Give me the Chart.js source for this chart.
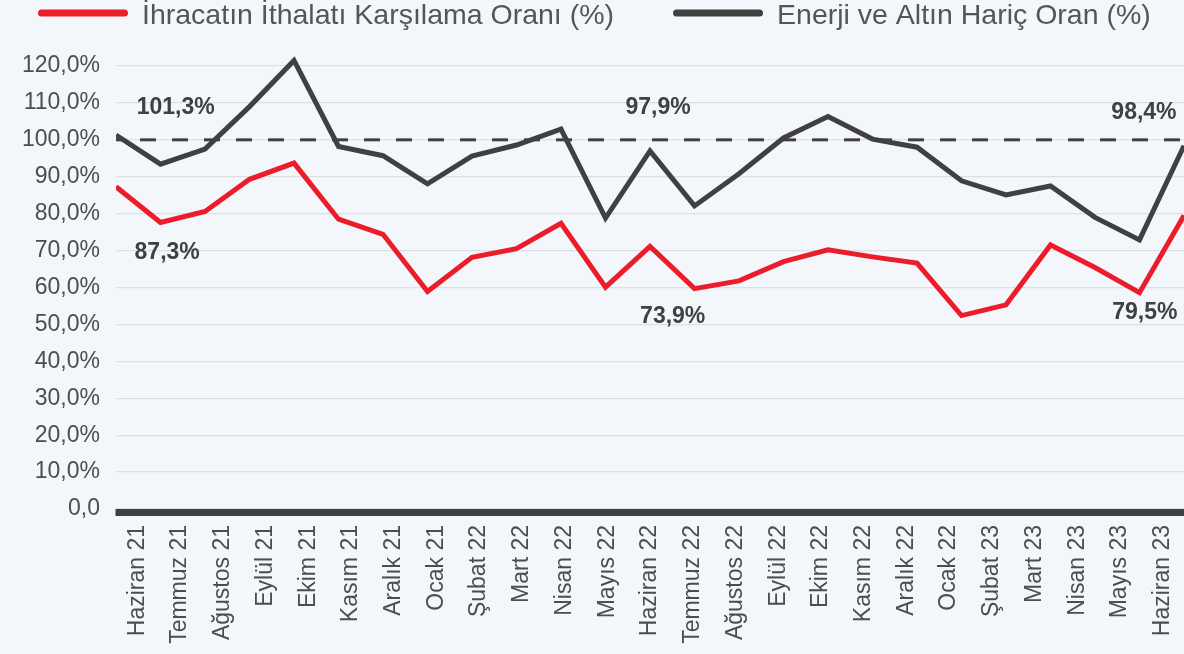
<!DOCTYPE html>
<html>
<head>
<meta charset="utf-8">
<script src="https://cdn.jsdelivr.net/npm/chart.js@4"></script>
<style>
html,body{margin:0;padding:0;background:#f3f6fa;overflow:hidden}
#wrap{width:1184px;height:654px;position:relative}
</style>
</head>
<body>
<div id="wrap"><canvas id="c" width="1184" height="654"></canvas></div>
<script>
// ---- data ----
const categories = ['Haziran 21','Temmuz 21','Ağustos 21','Eylül 21','Ekim 21','Kasım 21','Aralık 21','Ocak 21','Şubat 22','Mart 22','Nisan 22','Mayıs 22','Haziran 22','Temmuz 22','Ağustos 22','Eylül 22','Ekim 22','Kasım 22','Aralık 22','Ocak 22','Şubat 23','Mart 23','Nisan 23','Mayıs 23','Haziran 23'];
const seriesNames = ['İhracatın İthalatı Karşılama Oranı (%)', 'Enerji ve Altın Hariç Oran (%)'];
const exportCoverage = [87.3, 77.6, 80.6, 89.3, 93.7, 78.5, 74.4, 58.9, 68.2, 70.5, 77.4, 60.1, 71.1, 59.7, 61.8, 67.0, 70.2, 68.3, 66.6, 52.4, 55.3, 71.5, 65.4, 58.6, 79.5];
const exEnergyGold   = [101.3, 93.4, 97.5, 109.0, 121.5, 98.2, 95.7, 88.1, 95.6, 98.6, 102.9, 78.8, 97.0, 82.1, 90.8, 100.5, 106.3, 100.2, 98.0, 88.9, 85.1, 87.5, 79.0, 72.9, 98.4];
const yTicks = [0, 10, 20, 30, 40, 50, 60, 70, 80, 90, 100, 110, 120];
const referenceLevel = 100;
const callouts = ['101,3%', '87,3%', '97,9%', '73,9%', '98,4%', '79,5%'];

// ---- style ----
const RED = '#ec1c2a';
const DARK = '#404040';
const TEXT = '#4d4d4d';
const BG = '#f3f6fa';
const FONT = "'Liberation Sans', Arial, Helvetica, sans-serif";

// callout placement: [line-axis position, value-axis position]
const calloutPlace = [[1.34, 109.2], [1.15, 70.05], [12.18, 109.2], [12.51, 52.7], [23.1, 108.0], [23.12, 53.7]];

const decor = {
  id: 'decor',
  beforeDraw(chart) {
    const c = chart.ctx;
    c.save();
    c.fillStyle = BG;
    c.fillRect(0, 0, chart.width, chart.height);
    c.restore();
  },
  beforeDatasetsDraw(chart) {
    const c = chart.ctx, a = chart.chartArea, y = chart.scales.y.getPixelForValue(referenceLevel);
    c.save();
    c.strokeStyle = DARK;
    c.lineWidth = 3;
    c.setLineDash([16, 16]);
    c.lineDashOffset = 8;
    c.beginPath();
    c.moveTo(a.left, y);
    c.lineTo(a.right, y);
    c.stroke();
    c.restore();
  },
  afterDatasetsDraw(chart) {
    const c = chart.ctx, a = chart.chartArea, y = chart.scales.y.getPixelForValue(0) + 3.5;
    c.save();
    c.strokeStyle = DARK;
    c.lineWidth = 7;
    c.beginPath();
    c.moveTo(a.left - 0.5, y);
    c.lineTo(a.right, y);
    c.stroke();
    c.restore();
  },
  afterDraw(chart) {
    const c = chart.ctx;
    c.save();
    // legend
    c.font = '28.5px ' + FONT;
    c.textBaseline = 'alphabetic';
    c.textAlign = 'left';
    let x = 38;
    chart.data.datasets.forEach(ds => {
      c.strokeStyle = ds.borderColor;
      c.lineWidth = 7;
      c.lineCap = 'round';
      c.beginPath();
      c.moveTo(x + 3.5, 13);
      c.lineTo(x + 86.5, 13);
      c.stroke();
      c.fillStyle = '#555555';
      c.fillText(ds.label, x + 104, 23.5);
      x += 104 + c.measureText(ds.label).width + 59;
    });
    // callouts
    const xs = chart.scales.xl, ys = chart.scales.y;
    c.font = 'bold 23px ' + FONT;
    c.fillStyle = DARK;
    c.textAlign = 'center';
    callouts.forEach((t, i) => {
      const p = calloutPlace[i];
      c.fillText(t, xs.getPixelForValue(p[0]), ys.getPixelForValue(p[1]) + 8.2);
    });
    c.restore();
  }
};

new Chart(document.getElementById('c'), {
  type: 'line',
  data: {
    labels: categories,
    datasets: [
      { label: seriesNames[0], data: exportCoverage, borderColor: RED, backgroundColor: RED, borderWidth: 5, pointRadius: 0, tension: 0, xAxisID: 'xl', yAxisID: 'y', clip: { left: 0, top: false, right: 0, bottom: 0 } },
      { label: seriesNames[1], data: exEnergyGold, borderColor: DARK, backgroundColor: DARK, borderWidth: 5, pointRadius: 0, tension: 0, xAxisID: 'xl', yAxisID: 'y', clip: { left: 0, top: false, right: 0, bottom: 0 } }
    ]
  },
  options: {
    responsive: false,
    animation: false,
    devicePixelRatio: 1,
    layout: { padding: { top: 66, left: 0, right: 0, bottom: 0 } },
    plugins: { legend: { display: false }, tooltip: { enabled: false } },
    scales: {
      x: {
        type: 'category', labels: categories, position: 'bottom', offset: true,
        grid: { display: false, drawTicks: false }, border: { display: false },
        ticks: { autoSkip: false, maxRotation: 90, minRotation: 90, padding: 16, color: TEXT, font: { family: FONT, size: 23 } },
        afterFit: s => { s.height = 145; s.paddingLeft = 0; s.paddingRight = 0; }
      },
      xl: { type: 'category', labels: categories, position: 'bottom', offset: false, display: false },
      y: {
        min: 0, max: 120,
        afterBuildTicks: s => { s.ticks = yTicks.map(v => ({ value: v })); },
        afterFit: s => { s.width = 116; s.paddingTop = 0; s.paddingBottom = 0; },
        grid: { color: '#dcdfe3', lineWidth: 1.2, drawTicks: false }, border: { display: false },
        ticks: { padding: 16, color: TEXT, font: { family: FONT, size: 23 },
          callback: v => v === 0 ? '0,0' : v.toFixed(1).replace('.', ',') + '%' }
      }
    }
  },
  plugins: [decor]
});
</script>
</body>
</html>
